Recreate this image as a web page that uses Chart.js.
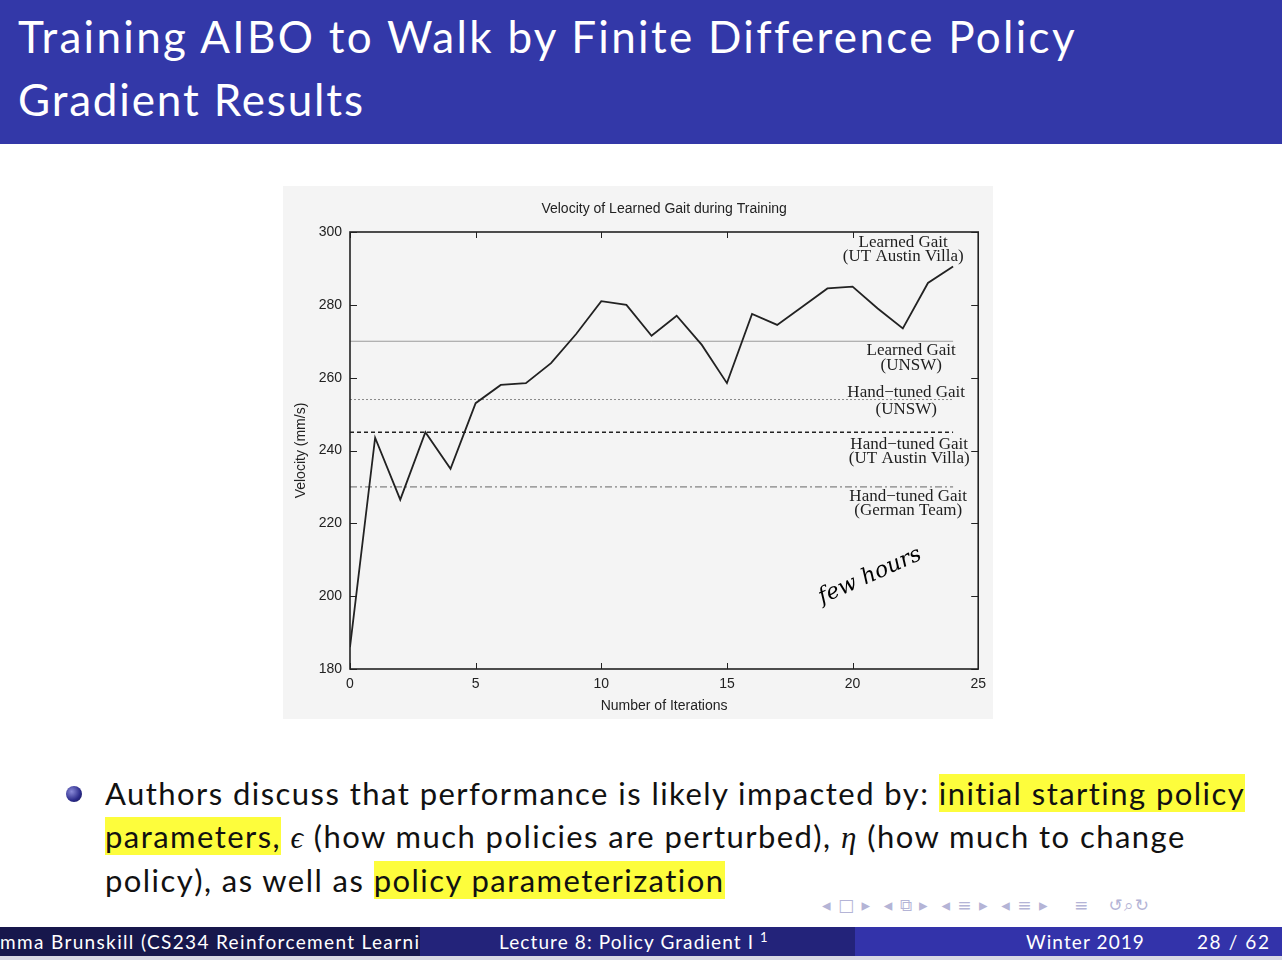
<!DOCTYPE html>
<html>
<head>
<meta charset="utf-8">
<script src="https://cdn.jsdelivr.net/npm/chart.js@4/dist/chart.umd.min.js"></script>
<style>
  html, body { margin: 0; padding: 0; background: #fff; }
  body { width: 1282px; height: 960px; position: relative; overflow: hidden; font-family: Lato, sans-serif; }
  .titlebar { position: absolute; left: 0; top: 0; width: 1282px; height: 144px; background: #3338a8; color: #fff; }
  .titlebar div { position: absolute; left: 18px; font-size: 44px; letter-spacing: 1.85px; white-space: nowrap; }
  .chartbox { position: absolute; left: 283px; top: 186px; width: 710px; height: 533px; background: #f4f4f4; }
  .bullet { position: absolute; left: 66px; top: 786px; width: 16px; height: 16px; border-radius: 50%;
            background: radial-gradient(circle at 35% 35%, #8a8ad8, #2a2a8a 60%, #14144a); }
  .body { position: absolute; left: 105px; top: 772px; font-size: 31px; line-height: 43px; letter-spacing: 1.45px; color: #111; white-space: nowrap; }
  .hl { background: #fdfd3c; }
  .m { font-family: "Liberation Serif", serif; font-style: italic; }
  .nav { position: absolute; top: 895px; left: 822px; font-size: 17px; color: #b4b4d6; white-space: nowrap; letter-spacing: 1px; font-family: "DejaVu Sans", sans-serif; }
  .foot { position: absolute; top: 927px; height: 29px; color: #fff; font-size: 19px; line-height: 29px; letter-spacing: 1.1px; white-space: nowrap; overflow: hidden; }
  .foot sup { font-size: 13px; position: relative; top: -7px; vertical-align: baseline; }
</style>
</head>
<body>
<div class="titlebar">
  <div style="top:10px;letter-spacing:2.3px">Training AIBO to Walk by Finite Difference Policy</div>
  <div style="top:73px">Gradient Results</div>
</div>

<div class="chartbox"><canvas id="gait-chart" width="710" height="533"></canvas></div>

<div class="bullet"></div>
<div class="body">
  Authors discuss that performance is likely impacted by: <span class="hl">initial starting policy</span><br>
  <span class="hl">parameters,</span> <span class="m">ϵ</span> (how much policies are perturbed), <span class="m">η</span> (how much to change<br>
  policy), as well as <span class="hl">policy parameterization</span>
</div>

<div class="nav">◂ □ ▸ &nbsp;◂ ⧉ ▸ &nbsp;◂ ≡ ▸ &nbsp;◂ ≡ ▸ &nbsp;&nbsp; ≡ &nbsp;&nbsp;↺⌕↻</div>

<div class="foot" style="left:0;width:420px;background:#17174c;letter-spacing:1.35px">mma Brunskill (CS234 Reinforcement Learning. )</div>
<div class="foot" style="left:420px;width:435px;background:#23237a;"><span style="position:absolute;left:79px">Lecture 8: Policy Gradient I <sup>1</sup></span></div>
<div class="foot" style="left:855px;width:427px;background:#3333aa;"><span style="position:absolute;left:171px">Winter 2019</span><span style="position:absolute;left:342px;letter-spacing:1.6px">28 / 62</span></div>
<div style="position:absolute;left:0;top:956px;width:1282px;height:4px;background:#d8d8e4"></div>

<script>
// Velocity of learned gait per training iteration
const iterations = [0, 1, 2, 3, 4, 5, 6, 7, 8, 9, 10, 11, 12, 13, 14, 15, 16, 17, 18, 19, 20, 21, 22, 23, 24];
const velocity = [186, 243.5, 226.5, 245, 235, 253, 258, 258.5, 264, 272, 281, 280, 271.5, 277, 269, 258.5, 277.5, 274.5, 279.5, 284.5, 285, 279, 273.5, 286, 290.5];

// Reference gaits (horizontal lines)
const refNames = ['Learned Gait (UNSW)', 'Hand-tuned Gait (UNSW)', 'Hand-tuned Gait (UT Austin Villa)', 'Hand-tuned Gait (German Team)'];
const refValues = [270, 254, 245, 230];
const refEnd = 24;

const yTicks = [180, 200, 220, 240, 260, 280, 300];
const xTicks = [0, 5, 10, 15, 20, 25];

const refStyles = [
    { color: '#9a9a9a', width: 1, dash: [] },
    { color: '#8a8a8a', width: 1, dash: [2, 2] },
    { color: '#222', width: 1.5, dash: [4, 3] },
    { color: '#666', width: 1, dash: [7, 3, 2, 3] }
];

// right-hand labels; dy in px from the line they describe
const annotations = [
    { lines: ['Learned Gait', '(UT Austin Villa)'], value: 300, dx: -75, dy: [11, 25] },
    { lines: ['Learned Gait', '(UNSW)'], value: refValues[0], dx: -67, dy: [9, 24] },
    { lines: ['Hand\u2212tuned Gait', '(UNSW)'], value: refValues[1], dx: -72, dy: [-7, 10] },
    { lines: ['Hand\u2212tuned Gait', '(UT Austin Villa)'], value: refValues[2], dx: -69, dy: [12, 26] },
    { lines: ['Hand\u2212tuned Gait', '(German Team)'], value: refValues[3], dx: -70, dy: [10, 24] }
];

const framePlugin = {
    id: 'frame',
    afterDatasetsDraw(chart) {
        const { ctx, chartArea: a, scales: { x, y } } = chart;
        ctx.save();
        // inward ticks on all four sides
        ctx.strokeStyle = '#222';
        ctx.lineWidth = 1;
        ctx.beginPath();
        xTicks.forEach(v => {
            const px = Math.round(x.getPixelForValue(v)) + 0.5;
            ctx.moveTo(px, a.bottom); ctx.lineTo(px, a.bottom - 6);
            ctx.moveTo(px, a.top); ctx.lineTo(px, a.top + 6);
        });
        yTicks.forEach(v => {
            const py = Math.round(y.getPixelForValue(v)) + 0.5;
            ctx.moveTo(a.left, py); ctx.lineTo(a.left + 7, py);
            ctx.moveTo(a.right, py); ctx.lineTo(a.right - 7, py);
        });
        ctx.stroke();
        ctx.lineWidth = 1.6;
        ctx.strokeRect(a.left, a.top, a.right - a.left, a.bottom - a.top);

        // labels
        ctx.fillStyle = '#1e1e1e';
        ctx.font = '17px "Liberation Serif", serif';
        ctx.textAlign = 'center';
        ctx.textBaseline = 'middle';
        annotations.forEach(an => {
            const py = y.getPixelForValue(an.value);
            an.lines.forEach((t, i) => ctx.fillText(t, a.right + an.dx, py + an.dy[i]));
        });

        // handwritten note
        ctx.translate(x.getPixelForValue(20.7), y.getPixelForValue(205.5));
        ctx.rotate(-0.42);
        ctx.fillStyle = '#000';
        ctx.font = 'italic 22px "DejaVu Serif", serif';
        ctx.fillText('few hours', 0, 0);
        ctx.restore();
    }
};

const datasets = [{
    label: 'Learned Gait (UT Austin Villa)',
    data: iterations.map((it, i) => ({ x: it, y: velocity[i] })),
    borderColor: '#222',
    borderWidth: 1.8,
    pointRadius: 0,
    tension: 0
}];
refValues.forEach((v, i) => {
    datasets.push({
        label: refNames[i],
        data: [{ x: 0, y: v }, { x: refEnd, y: v }],
        borderColor: refStyles[i].color,
        borderWidth: refStyles[i].width,
        borderDash: refStyles[i].dash,
        pointRadius: 0
    });
});

new Chart(document.getElementById('gait-chart'), {
    type: 'line',
    data: { datasets: datasets },
    options: {
        responsive: false,
        animation: false,
        layout: { padding: { left: 0, right: 14, top: 0, bottom: 0 } },
        plugins: {
            legend: { display: false },
            tooltip: { enabled: false },
            title: {
                display: true,
                fullSize: false,
                text: 'Velocity of Learned Gait during Training',
                color: '#222',
                font: { family: 'Liberation Sans', size: 14, weight: 'normal', lineHeight: 1.2 },
                padding: { top: 14.5, bottom: 14.7 }
            }
        },
        scales: {
            x: {
                type: 'linear', min: 0, max: 25,
                afterFit: s => { s.height = 50; },
                afterBuildTicks: s => { s.ticks = xTicks.map(v => ({ value: v })); },
                grid: { display: false, drawTicks: false },
                border: { display: false },
                ticks: { color: '#222', padding: 7, font: { family: 'Liberation Sans', size: 14 } },
                title: { display: true, text: 'Number of Iterations', color: '#222', padding: { top: 0, bottom: 4.5 }, font: { family: 'Liberation Sans', size: 14 } }
            },
            y: {
                min: 180, max: 300,
                afterFit: s => { s.width = 67; },
                afterBuildTicks: s => { s.ticks = yTicks.map(v => ({ value: v })); },
                grid: { display: false, drawTicks: false },
                border: { display: false },
                ticks: { color: '#222', padding: 8, font: { family: 'Liberation Sans', size: 14 } },
                title: { display: true, text: 'Velocity (mm/s)', color: '#222', padding: { top: 9.5, bottom: 0 }, font: { family: 'Liberation Sans', size: 14 } }
            }
        }
    },
    plugins: [framePlugin]
});
</script>
</body>
</html>
